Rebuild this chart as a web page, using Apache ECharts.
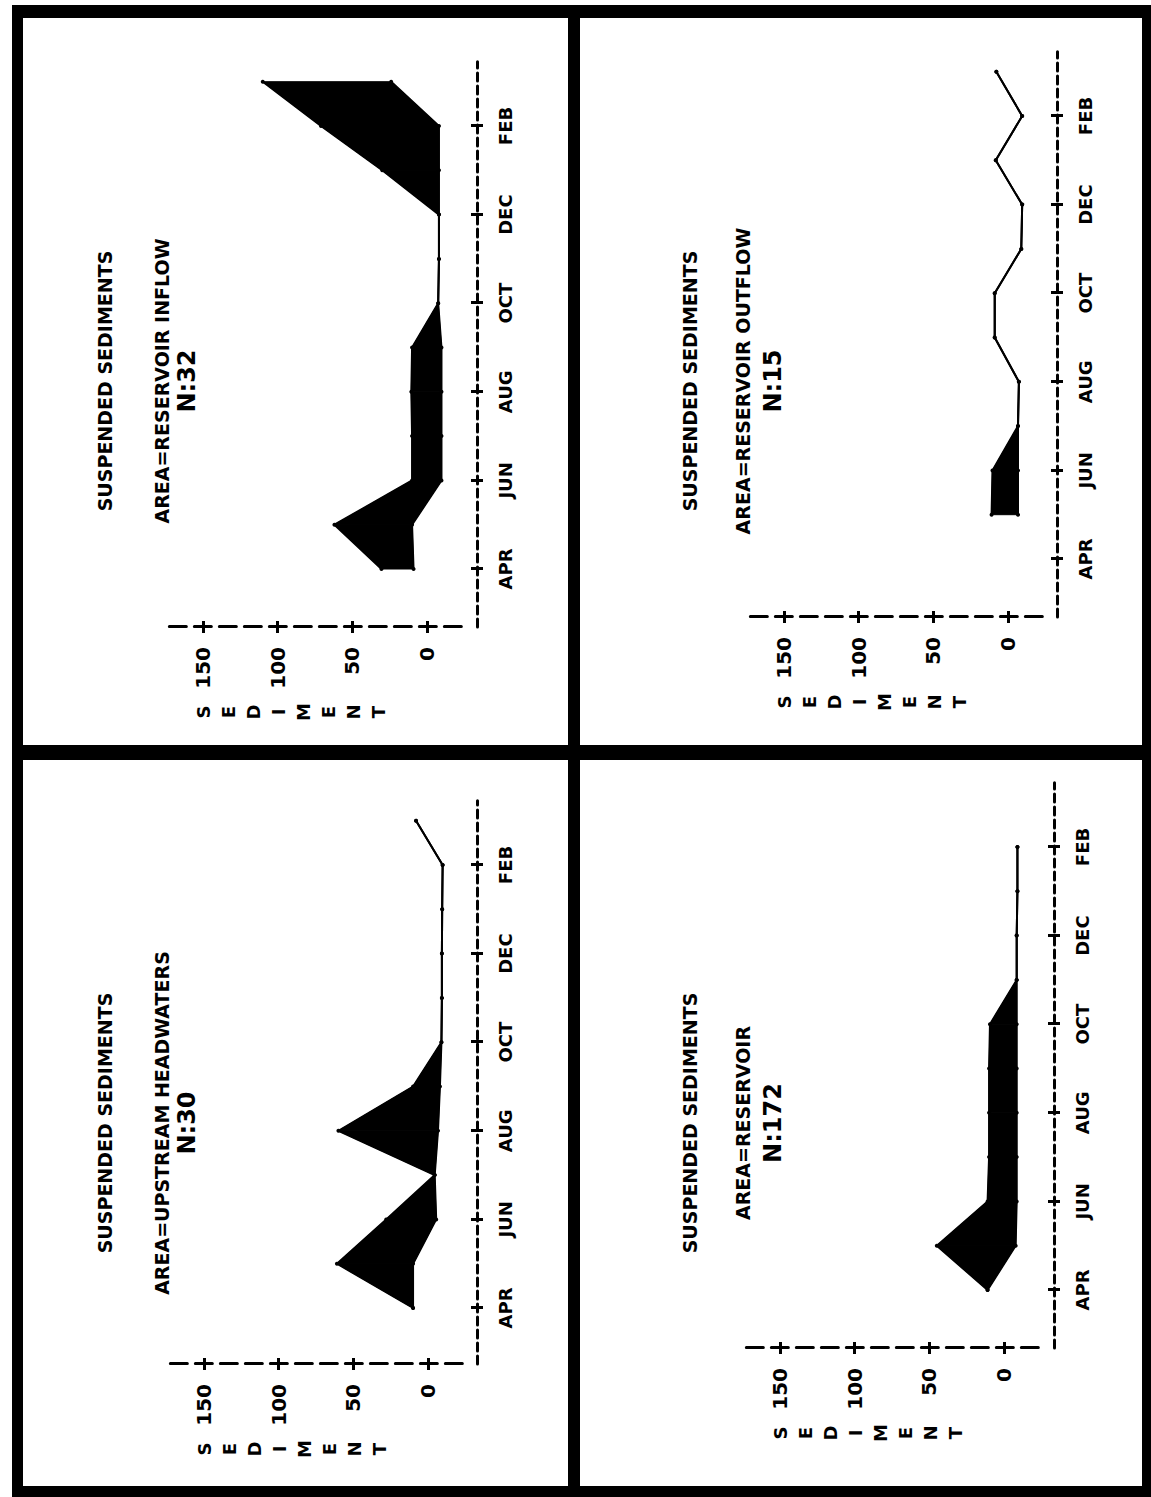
<!DOCTYPE html>
<html>
<head>
<meta charset="utf-8">
<script src="https://cdn.jsdelivr.net/npm/echarts@6/dist/echarts.min.js"></script>
<style>
html, body { margin: 0; padding: 0; background: #fff; width: 1151px; height: 1497px; overflow: hidden; }
/* the page is drawn upright, then turned a quarter to the left like the scan */
#chart { position: absolute; left: -173px; top: 173px; width: 1497px; height: 1151px; transform: rotate(-90deg); transform-origin: 50% 50%; }
</style>
</head>
<body>
<div id="chart"></div>
<script>
// months counted from APR = 0
const months = ['APR', 'MAY', 'JUN', 'JUL', 'AUG', 'SEP', 'OCT', 'NOV', 'DEC', 'JAN', 'FEB', 'MAR'];
const monthTicks = [0, 2, 4, 6, 8, 10];
const valueTicks = [0, 50, 100, 150];
const axisName = 'SEDIMENT';

const titleText = 'SUSPENDED SEDIMENTS';
const areaNames = ['AREA=UPSTREAM HEADWATERS', 'AREA=RESERVOIR INFLOW', 'AREA=RESERVOIR', 'AREA=RESERVOIR OUTFLOW'];
const sampleSizes = ['N:30', 'N:32', 'N:172', 'N:15'];

// upper and lower edge of the black band, per month
const headwatersHigh = [10, 61, 28, -4.5, 60, 10, -9, -9.3, -9.3, -9.5, -9.8, 8];
const headwatersLow  = [10, 10, -5.5, -4.5, -6.7, -8, -9, -9.3, -9.3, -9.5, -9.8, 8];
const inflowHigh = [30.5, 62, 10, 10, 10.5, 10, -7.5, -8, -8, 30, 71, 110];
const inflowLow  = [9, 10, -9.7, -9.7, -9.7, -9.7, -7.5, -8, -8, -8, -8, 24];
const reservoirHigh = [11, 45, 11, 10, 10, 10, 9.4, -8.5, -8.5, -9, -9, null];
const reservoirLow  = [11, -7.8, -8.5, -8.5, -8.5, -8.5, -8.5, -8.5, -8.5, -9, -9, null];
const outflowHigh = [null, 11, 10.4, -6.7, -7.3, 8.9, 8.9, -8.9, -9.5, 8.2, -9.5, 7.8];
const outflowLow  = [null, -6.7, -6.7, -6.7, -7.3, 8.9, 8.9, -8.9, -9.5, 8.2, -9.5, 7.8];

const bands = [
  [headwatersHigh, headwatersLow],
  [inflowHigh, inflowLow],
  [reservoirHigh, reservoirLow],
  [outflowHigh, outflowLow]
];

// where each panel sits on the upright page (pixels)
const PX_VAL = 1.493, PX_MONTH = 44.3;
const VAL_MIN = -23, VAL_MAX = 175, MONTH_MAX = 11.45;
const panels = [
  { axisU: 133, aprU: 189, zeroV: 428, monthV: 477, titleU: 374, titleV: [105, 162, 187] },
  { axisU: 870, aprU: 928, zeroV: 427, monthV: 477, titleU: 1116, titleV: [105, 162, 187] },
  { axisU: 149, aprU: 207, zeroV: 1004, monthV: 1054, titleU: 374, titleV: [690, 743, 773] },
  { axisU: 880, aprU: 938, zeroV: 1008, monthV: 1057, titleU: 1116, titleV: [690, 743, 773] }
];

const FONT = 'DejaVu Sans';
const black = '#000';

const grids = [], xAxes = [], yAxes = [], series = [], graphics = [];

panels.forEach((p, i) => {
  const monthMin = (p.axisU - p.aprU) / PX_MONTH;
  const bottomV = p.zeroV - VAL_MIN * PX_VAL;
  grids.push({
    left: p.axisU,
    top: p.zeroV - VAL_MAX * PX_VAL,
    width: (MONTH_MAX - monthMin) * PX_MONTH,
    height: (VAL_MAX - VAL_MIN) * PX_VAL
  });

  // two axes per direction so each tick crosses the line like a "+"
  [false, true].forEach(inside => {
    xAxes.push({
      type: 'value', gridIndex: i, position: 'bottom', offset: p.monthV - bottomV,
      min: monthMin, max: MONTH_MAX,
      axisLine: { show: !inside, onZero: false, lineStyle: { color: black, width: 3, type: [8, 5] } },
      axisTick: { show: true, inside, length: 6, customValues: monthTicks, lineStyle: { color: black, width: 3 } },
      axisLabel: {
        show: !inside, customValues: monthTicks, formatter: v => months[v],
        color: black, fontFamily: FONT, fontWeight: 'bold', fontSize: 18, margin: 19
      },
      splitLine: { show: false }
    });
    yAxes.push({
      type: 'value', gridIndex: i, position: 'left',
      min: VAL_MIN, max: VAL_MAX,
      axisLine: { show: !inside, onZero: false, lineStyle: { color: black, width: 3, type: [17, 8] } },
      axisTick: { show: true, inside, length: 6, customValues: valueTicks, lineStyle: { color: black, width: 3 } },
      axisLabel: {
        show: !inside, customValues: valueTicks,
        color: black, fontFamily: FONT, fontWeight: 'bold', fontSize: 20, margin: 20
      },
      splitLine: { show: false }
    });
  });

  const [high, low] = bands[i];

  // band between the two edges, one quad per month step
  const steps = [];
  for (let k = 0; k < months.length - 1; k++) {
    if (high[k] == null || high[k + 1] == null) continue;
    steps.push([k, low[k], high[k], low[k + 1], high[k + 1]]);
  }
  series.push({
    type: 'custom', xAxisIndex: i * 2, yAxisIndex: i * 2, silent: true,
    data: steps,
    encode: { x: 0, y: [1, 2] },
    renderItem: (params, api) => {
      const k = api.value(0);
      const pts = [
        api.coord([k, api.value(1)]), api.coord([k, api.value(2)]),
        api.coord([k + 1, api.value(4)]), api.coord([k + 1, api.value(3)])
      ];
      return { type: 'polygon', shape: { points: pts }, style: { fill: black, stroke: black, lineWidth: 1 } };
    }
  });

  const highPts = [], lowPts = [];
  months.forEach((m, k) => {
    if (high[k] == null) return;
    highPts.push([k, high[k]]);
    lowPts.push([k, low[k]]);
  });
  const common = {
    type: 'line', xAxisIndex: i * 2, yAxisIndex: i * 2,
    symbol: 'circle', symbolSize: 4, itemStyle: { color: black },
    lineStyle: { color: black, width: 2 }, silent: true
  };
  series.push({ ...common, name: 'high' + i, data: highPts });
  series.push({ ...common, name: 'low' + i, data: lowPts });

  // titles
  const lines = [
    { text: titleText, size: 19 },
    { text: areaNames[i], size: 19 },
    { text: sampleSizes[i], size: 24 }
  ];
  lines.forEach((l, j) => {
    graphics.push({
      type: 'text', x: p.titleU, y: p.titleV[j],
      style: { text: l.text, fill: black, font: `bold ${l.size}px "${FONT}"`, align: 'center', verticalAlign: 'middle' }
    });
  });

  // axis name written as a column of letters
  graphics.push({
    type: 'text', x: p.axisU - 85, y: p.zeroV - 150 * PX_VAL - 12.5,
    style: {
      text: axisName.split('').join('\n'), fill: black, font: `bold 18px "${FONT}"`,
      align: 'center', verticalAlign: 'top', lineHeight: 25
    }
  });
});

// frame and dividers
const frame = [
  [0, 12, 11, 1139], [1479, 12, 13, 1139],
  [0, 12, 1492, 11], [0, 1142, 1492, 9],
  [737, 12, 15, 1139], [0, 568, 1492, 12]
];
frame.forEach(([x, y, w, h]) => graphics.push({ type: 'rect', shape: { x, y, width: w, height: h }, style: { fill: black } }));

const chart = echarts.init(document.getElementById('chart'), null, { renderer: 'svg' });
chart.setOption({
  animation: false,
  backgroundColor: '#fff',
  grid: grids,
  xAxis: xAxes,
  yAxis: yAxes,
  series,
  graphic: graphics
});
</script>
</body>
</html>
